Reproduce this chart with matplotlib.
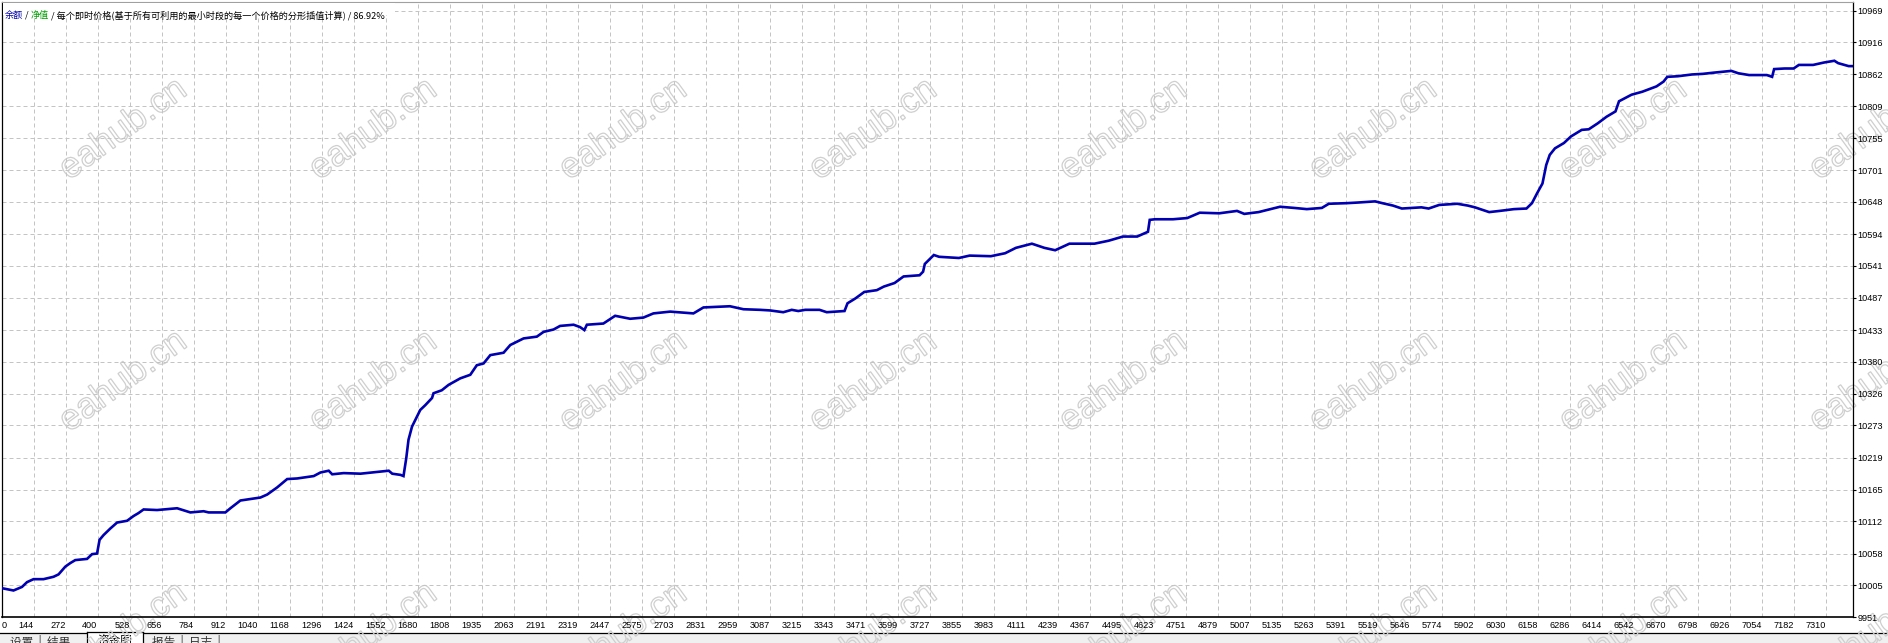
import numpy as np
import matplotlib
matplotlib.use("Agg")
import matplotlib.pyplot as plt
from matplotlib.patches import Rectangle, PathPatch
from matplotlib.lines import Line2D
from matplotlib.textpath import TextPath
from matplotlib.font_manager import FontProperties
from matplotlib.transforms import Affine2D

# ---------------- data ----------------
trade_no = [0, 48, 82, 102, 128, 168, 208, 228, 255, 275, 295, 342, 362, 382, 392, 408, 435,
            462, 502, 528, 548, 568, 622, 702, 755, 808, 828, 895, 915, 955, 1035, 1062, 1102,
            1142, 1182, 1248, 1275, 1308, 1322, 1368, 1435, 1502, 1548, 1562, 1595, 1607, 1618,
            1627, 1641, 1654, 1674, 1694, 1721, 1727, 1760, 1787, 1834, 1874, 1900, 1927, 1954,
            2007, 2034, 2087, 2140, 2167, 2207, 2233, 2287, 2313, 2330, 2340, 2406, 2453, 2513,
            2566, 2606, 2673, 2766, 2806, 2859, 2912, 2966, 3032, 3072, 3125, 3159, 3185, 3213,
            3270, 3299, 3370, 3382, 3413, 3449, 3499, 3527, 3570, 3606, 3670, 3684, 3691, 3727,
            3748, 3827, 3870, 3955, 4012, 4055, 4119, 4169, 4212, 4269, 4369, 4426, 4483, 4540,
            4583, 4590, 4611, 4683, 4740, 4790, 4868, 4939, 4968, 5025, 5111, 5168, 5218, 5278,
            5306, 5377, 5420, 5491, 5520, 5562, 5598, 5676, 5705, 5747, 5819, 5861, 5890, 5918,
            5947, 5989, 6046, 6096, 6118, 6139, 6160, 6175, 6189, 6210, 6246, 6274, 6317, 6345,
            6381, 6416, 6452, 6466, 6516, 6559, 6616, 6644, 6659, 6701, 6758, 6801, 6844, 6915,
            6943, 6986, 7057, 7078, 7086, 7128, 7164, 7185, 7242, 7285, 7327, 7342, 7384, 7398]

balance = [10000, 9996, 10002, 10010, 10015, 10015, 10019, 10023, 10036, 10042, 10047, 10049,
           10057, 10058, 10081, 10089, 10100, 10110, 10113, 10121, 10126, 10132, 10131, 10134,
           10127, 10129, 10127, 10127, 10134, 10147, 10152, 10157, 10169, 10183, 10184, 10188,
           10194, 10197, 10191, 10193, 10192, 10195, 10197, 10192, 10190, 10188, 10218, 10249,
           10271, 10282, 10299, 10307, 10319, 10327, 10332, 10341, 10352, 10358, 10374, 10377,
           10391, 10395, 10408, 10419, 10422, 10430, 10434, 10440, 10442, 10438, 10433, 10442,
           10444, 10457, 10452, 10454, 10461, 10464, 10461, 10471, 10472, 10473, 10468, 10467,
           10466, 10463, 10467, 10465, 10467, 10467, 10463, 10465, 10478, 10486, 10497, 10500,
           10506, 10512, 10523, 10525, 10531, 10544, 10559, 10556, 10554, 10558, 10557, 10562,
           10571, 10578, 10571, 10567, 10578, 10578, 10583, 10590, 10590, 10598, 10618, 10619,
           10619, 10621, 10630, 10629, 10633, 10628, 10631, 10640, 10638, 10636, 10638, 10645,
           10646, 10647, 10649, 10646, 10642, 10637, 10639, 10637, 10643, 10645, 10642, 10639,
           10635, 10631, 10633, 10636, 10637, 10646, 10663, 10679, 10710, 10727, 10738, 10747,
           10758, 10769, 10770, 10780, 10791, 10800, 10817, 10828, 10833, 10842, 10850, 10858,
           10859, 10862, 10863, 10865, 10868, 10864, 10861, 10861, 10858, 10871, 10872, 10872,
           10878, 10878, 10882, 10885, 10881, 10876, 10876]

x_tick_labels = ["0", "144", "272", "400", "528", "656", "784", "912", "1040", "1168", "1296",
                 "1424", "1552", "1680", "1808", "1935", "2063", "2191", "2319", "2447", "2575",
                 "2703", "2831", "2959", "3087", "3215", "3343", "3471", "3599", "3727", "3855",
                 "3983", "4111", "4239", "4367", "4495", "4623", "4751", "4879", "5007", "5135",
                 "5263", "5391", "5519", "5646", "5774", "5902", "6030", "6158", "6286", "6414",
                 "6542", "6670", "6798", "6926", "7054", "7182", "7310"]

y_ticks = [9951, 10005, 10058, 10112, 10165, 10219, 10273, 10326, 10380, 10433, 10487, 10541,
           10594, 10648, 10701, 10755, 10809, 10862, 10916, 10969]

title_parts = [("余额", "#0000aa"), (" / ", "#000000"), ("净值", "#00a000"),
               (" / 每个即时价格(基于所有可利用的最小时段的每一个价格的分形插值计算) / 86.92%", "#000000")]

tabs_left = "设置  |  结果"
tab_active = "资金图"
tabs_right = "报告  |  日志  |"
watermark = "eahub.cn"

# ---------------- layout (pixels) ----------------
W, H = 1888, 643
DPI = 100
L, R, T, B = 1.5, 1852.7, 2.0, 617.3
TRADES_PER_GRID = 127.96
PX_PER_GRID = 32.01
Y_PX_PER_UNIT = (617.3 - 10.7) / (10969 - 9951)

plt.rcParams['font.family'] = ['Liberation Sans', 'DejaVu Sans']
cjk = ['Noto Sans CJK SC', 'DejaVu Sans']

fig = plt.figure(figsize=(W / DPI, H / DPI), dpi=DPI)
fig.patch.set_facecolor("white")
px = Affine2D().scale(1.0 / DPI) + fig.dpi_scale_trans  # pixel transform (origin bottom-left)

ax = fig.add_axes([L / W, 1 - B / H, (R - L) / W, (B - T) / H])
ax.set_facecolor("none")
ax.set_zorder(0)

ax.plot(trade_no, balance, color="#0000b0", lw=1.9, solid_joinstyle="miter", zorder=3)

ax.set_xlim(0, (R - L) / PX_PER_GRID * TRADES_PER_GRID)
ax.set_ylim(9951, 9951 + (B - T) / Y_PX_PER_UNIT)

xt = np.arange(len(x_tick_labels)) * TRADES_PER_GRID
ax.set_xticks(xt)
ax.set_xticklabels(x_tick_labels, fontsize=6.6)
for i, lbl in enumerate(ax.get_xticklabels()):
    lbl.set_ha("left" if i == 0 else "right")
ax.tick_params(axis="x", length=0, pad=3.0, colors="black")

ax.yaxis.tick_right()
ax.set_yticks(y_ticks)
ax.set_yticklabels([str(v) for v in y_ticks], fontsize=6.6)
ax.tick_params(axis="y", direction="out", length=2.2, width=0.8, pad=1.2, colors="black")

ax.grid(True, color="#c4c4c4", lw=0.72, ls=(0, (4, 3)), zorder=1)
ax.set_axisbelow(True)

for s in ["left", "bottom", "right"]:
    ax.spines[s].set_color("black")
    ax.spines[s].set_linewidth(0.9)
ax.spines["bottom"].set_linewidth(1.2)
ax.spines["top"].set_color("#a0a0a0")
ax.spines["top"].set_linewidth(0.8)

# ---------------- tab strip at the bottom ----------------
fig.add_artist(Rectangle((0, 0), W, H - 633, transform=px, facecolor="#f0f0f0",
                         edgecolor="none", zorder=-3))
fig.add_artist(Line2D([0, W], [H - 633, H - 633], transform=px, color="black", lw=0.9, zorder=-2.5))
fig.add_artist(Rectangle((87, 0), 56, H - 631.5, transform=px, facecolor="white",
                         edgecolor="none", zorder=-2.4))
for xx in (87, 143):
    fig.add_artist(Line2D([xx, xx], [0, H - 631.5], transform=px, color="black", lw=0.9, zorder=-2.3))
fig.add_artist(Line2D([87, 143], [H - 631.5, H - 631.5], transform=px, color="black", lw=0.9, zorder=-2.3))

fig.text(10 / W, 1 - 635 / H, tabs_left, family=cjk, fontsize=8.4, color="#333333",
         ha="left", va="top", zorder=-2)
fig.text(97 / W, 1 - 635 / H, tab_active, family=cjk, fontsize=8.4, color="black",
         ha="left", va="top", zorder=-2)
fig.text(152 / W, 1 - 635 / H, tabs_right, family=cjk, fontsize=8.4, color="#333333",
         ha="left", va="top", zorder=-2)

# ---------------- watermarks ----------------
fp = FontProperties(family="Liberation Sans")
tp = TextPath((0, 0), watermark, prop=fp, size=36)
bb = tp.get_extents()
for cy in (127, 379, 631):
    for cx in np.arange(121, W + 130, 250):
        tr = (Affine2D().translate(-(bb.x0 + bb.width / 2), -(bb.y0 + bb.height / 2))
              .rotate_deg(36).translate(cx, H - cy))
        fig.add_artist(PathPatch(tp, transform=tr + px, facecolor="none",
                                 edgecolor="#cfcfcf", lw=0.9, zorder=-1))

# ---------------- title (multi-colour, chained left to right) ----------------
fig.add_artist(Rectangle((3, H - 15), 392, 12.5, transform=px, facecolor="white",
                         edgecolor="none", zorder=1))
renderer = fig.canvas.get_renderer()
x_cursor = 5.0
for txt, col in title_parts:
    t = fig.text(x_cursor / W, 1 - 15 / H, txt, family=cjk, fontsize=6.6, color=col,
                 ha="left", va="center", zorder=2)
    ext = t.get_window_extent(renderer=renderer)
    x_cursor = ext.x1

fig.savefig("out.png", dpi=DPI)
